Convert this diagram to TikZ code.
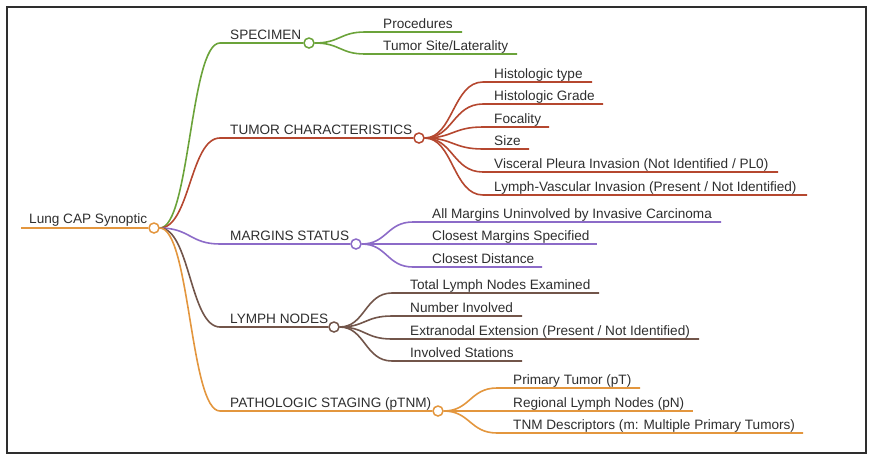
\documentclass[tikz,border=0pt]{standalone}
\usepackage{fontspec}
\setmainfont{Liberation Sans}
\usetikzlibrary{backgrounds}
\definecolor{cgreen}{HTML}{6BA33A}
\definecolor{cred}{HTML}{B5472F}
\definecolor{cpurple}{HTML}{8C6BC8}
\definecolor{cbrown}{HTML}{72554A}
\definecolor{corange}{HTML}{E3963E}
\definecolor{txt}{HTML}{2E2E2E}
\tikzset{
  lbl/.style={anchor=base west, inner sep=0pt, text=txt, font=\fontsize{13.6}{16}\selectfont},
  dot/.style={circle, draw, fill=white, minimum size=10pt, inner sep=0pt, line width=1.5pt},
  br/.style={line width=1.6pt},
}
\begin{document}
\begin{tikzpicture}[x=1pt,y=-1pt]
\useasboundingbox (0,0) rectangle (873,464);
\draw[line width=2pt, draw=txt] (7,7) rectangle (866,453);

% root
\node[dot, draw=corange] (root) at (154,228) {};
\coordinate (rootL) at (21,228);
\node[lbl] (rootT) at (29,223.5) {Lung CAP Synoptic};

% level 1
\node[dot, draw=cgreen] (spec) at (309,43) {};
\node[lbl] (specT) at (230,39) {SPECIMEN};
\coordinate (specS) at (220,43);

\node[dot, draw=cred] (tum) at (419,138) {};
\node[lbl] (tumT) at (230,134) {TUMOR CHARACTERISTICS};
\coordinate (tumS) at (220,138);

\node[dot, draw=cpurple] (mar) at (356,244) {};
\node[lbl] (marT) at (230,240) {MARGINS STATUS};
\coordinate (marS) at (220,244);

\node[dot, draw=cbrown] (lym) at (334,327) {};
\node[lbl] (lymT) at (230,323) {LYMPH NODES};
\coordinate (lymS) at (220,327);

\node[dot, draw=corange] (pat) at (438,411) {};
\node[lbl] (patT) at (230,407) {PATHOLOGIC STAGING (pTNM)};
\coordinate (patS) at (220,411);

\begin{pgfonlayer}{background}
\draw[br, draw=corange] (rootL) -- (root.west);
\draw[br, cgreen] (root.east) .. controls (190,228) and (190,43) .. (specS) -- (spec.west);
\draw[br, cred] (root.east) .. controls (190,228) and (190,138) .. (tumS) -- (tum.west);
\draw[br, cpurple] (root.east) .. controls (190,228) and (190,244) .. (marS) -- (mar.west);
\draw[br, cbrown] (root.east) .. controls (190,228) and (190,327) .. (lymS) -- (lym.west);
\draw[br, corange] (root.east) .. controls (190,228) and (190,411) .. (patS) -- (pat.west);
\end{pgfonlayer}

% SPECIMEN leaves
\foreach \n/\y/\e/\t in {s1/32/462/Procedures, s2/54/517/Tumor Site\slash Laterality}{
  \node[lbl] (\n T) at (383,\y-4) {\t};
  \coordinate (\n S) at (365,\y);
  \coordinate (\n E) at (\e,\y);
  \begin{pgfonlayer}{background}
  \draw[br, cgreen] (spec.east) .. controls (340,43) and (340,\y) .. (\n S) -- (\n E);
  \end{pgfonlayer}
}

% TUMOR leaves
\foreach \n/\y/\e/\t in {t1/82/592/Histologic type, t2/104/603/Histologic Grade, t3/127/549/Focality, t4/149/529/Size, t5/172/778/Visceral Pleura Invasion (Not Identified \slash\ PL0), t6/195/807/Lymph-Vascular Invasion (Present \slash\ Not Identified)}{
  \node[lbl] (\n T) at (494,\y-4) {\t};
  \coordinate (\n S) at (483,\y);
  \coordinate (\n E) at (\e,\y);
  \begin{pgfonlayer}{background}
  \draw[br, cred] (tum.east) .. controls (453,138) and (453,\y) .. (\n S) -- (\n E);
  \end{pgfonlayer}
}

% MARGINS leaves
\foreach \n/\y/\e/\t in {m1/222/721/All Margins Uninvolved by Invasive Carcinoma, m2/244/597/Closest Margins Specified, m3/267/542/Closest Distance}{
  \node[lbl] (\n T) at (432,\y-4) {\t};
  \coordinate (\n S) at (413,\y);
  \coordinate (\n E) at (\e,\y);
  \begin{pgfonlayer}{background}
  \draw[br, cpurple] (mar.east) .. controls (387,244) and (387,\y) .. (\n S) -- (\n E);
  \end{pgfonlayer}
}

% LYMPH leaves
\foreach \n/\y/\e/\t in {l1/293/599/Total Lymph Nodes Examined, l2/316/522/Number Involved, l3/339/699/Extranodal Extension (Present \slash\ Not Identified), l4/361/522/Involved Stations}{
  \node[lbl] (\n T) at (410,\y-4) {\t};
  \coordinate (\n S) at (392,\y);
  \coordinate (\n E) at (\e,\y);
  \begin{pgfonlayer}{background}
  \draw[br, cbrown] (lym.east) .. controls (365,327) and (365,\y) .. (\n S) -- (\n E);
  \end{pgfonlayer}
}

% PATHOLOGIC leaves
\foreach \n/\y/\e/\t in {p1/388/640/Primary Tumor (pT), p2/411/693/Regional Lymph Nodes (pN), p3/433/803/TNM Descriptors (m: Multiple Primary Tumors)}{
  \node[lbl] (\n T) at (513,\y-4) {\t};
  \coordinate (\n S) at (497,\y);
  \coordinate (\n E) at (\e,\y);
  \begin{pgfonlayer}{background}
  \draw[br, corange] (pat.east) .. controls (470,411) and (470,\y) .. (\n S) -- (\n E);
  \end{pgfonlayer}
}
\end{tikzpicture}
\end{document}
